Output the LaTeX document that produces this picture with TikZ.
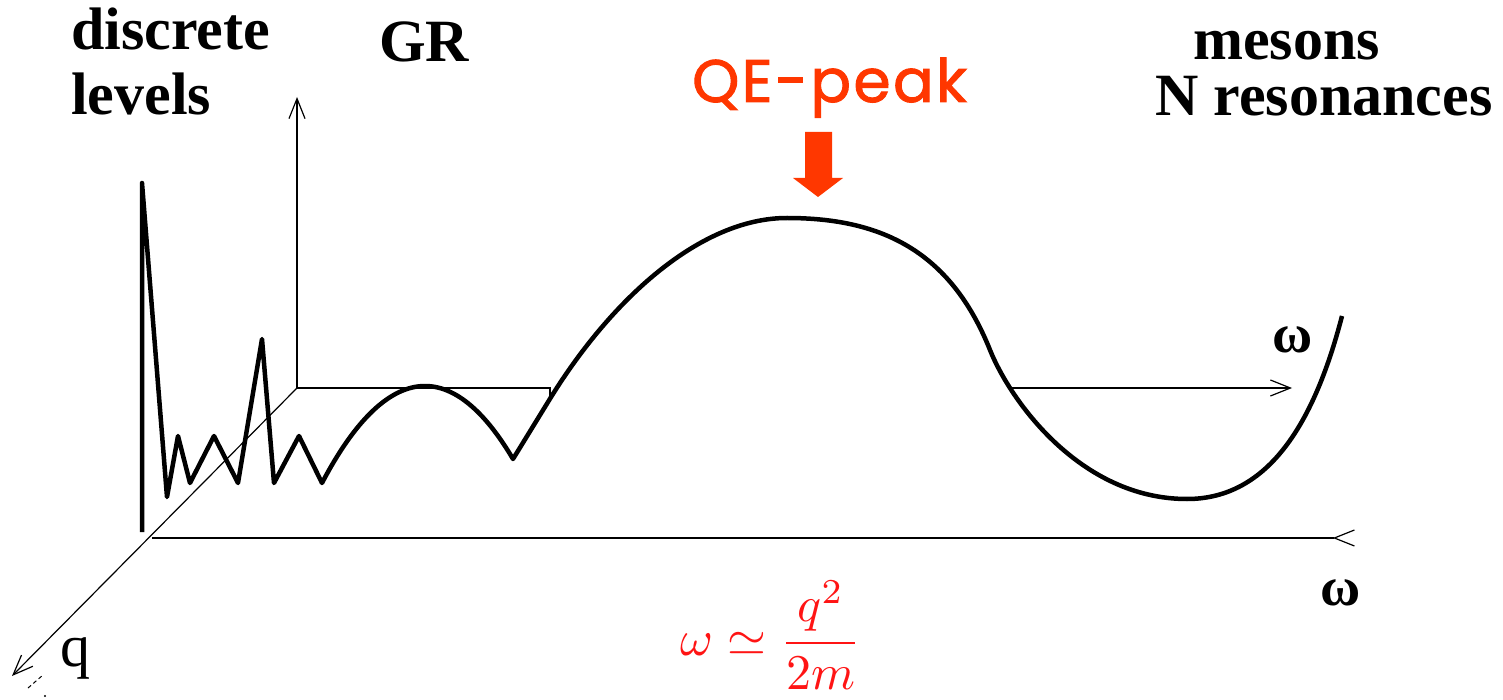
\documentclass[tikz,border=0pt]{standalone}
\usepackage[no-math]{fontspec}
\setmainfont{Liberation Serif}
\newfontfamily\qefont[FakeBold=1.6,LetterSpace=4]{Poppins}
\usetikzlibrary{arrows.meta}
\definecolor{qered}{RGB}{255,55,0}
\definecolor{frmred}{RGB}{255,20,20}
\tikzset{
  axis/.style={line width=1.2pt},
  axarrow/.style={axis,-{Straight Barb[length=20pt,width=16pt]}},
  axarrowrev/.style={axis,-{Straight Barb[reversed,length=20pt,width=16pt]}},
  curve/.style={line width=4.5pt,line join=round},
  lbl/.style={inner sep=0pt,anchor=base west,font=\fontsize{60}{66}\selectfont\bfseries},
  omg/.style={inner sep=0pt,anchor=base west,font=\fontsize{55}{60}\selectfont\bfseries},
}
\begin{document}
\begin{tikzpicture}[x=1pt,y=-1pt]
\useasboundingbox (0,0) rectangle (1503,700);
% axes coordinates
\coordinate (O) at (297,388);
\coordinate (vtop) at (297,97);
\coordinate (qtip) at (12,676);
\coordinate (bend1) at (550,388);
\coordinate (bend1b) at (550,399);
\coordinate (bstart2) at (1010,388);
\coordinate (bend2) at (1292,388);
\coordinate (fstart) at (152,538);
\coordinate (fend) at (1355,538);
% axes
\draw[axarrow] (O) -- (vtop);
\draw[axis] (O) -- (bend1) -- (bend1b);
\draw[axarrow] (bstart2) -- (bend2);
\draw[axarrow] (O) -- (qtip);
\draw[axarrowrev] (fstart) -- (fend);
% small marks near q tip
\coordinate (d1) at (28,688);
\coordinate (d2) at (43,675);
\draw[line width=1pt,dash pattern=on 4pt off 3pt] (d1) -- (d2);
\fill (45,696) circle (1.1pt);
% thick response curve
\draw[curve] (142,532) -- (142,183) -- (167,497) -- (178,436) -- (190,483) -- (214,436)
  -- (238,483) -- (262,339) -- (274,483) -- (299,436) -- (322,483)
  .. controls (355,420) and (390,386) .. (425,386)
  .. controls (460,386) and (490,420) .. (513,459)
  -- (548,402)
  .. controls (610,300) and (700,218) .. (787,218)
  .. controls (880,218) and (950,250) .. (990,350)
  .. controls (1010,400) and (1080,499) .. (1187,499)
  .. controls (1270,499) and (1315,420) .. (1342,316);
% QE peak arrow
\fill[qered] (805,132) -- (832,132) -- (832,178) -- (843,178) -- (818,197) -- (793,178) -- (805,178) -- cycle;
% labels
\node[lbl] (disc) at (71,50) {discrete};
\node[lbl] (lev) at (71,115) {levels};
\node[lbl] (gr) at (379,62) {GR};
\node[lbl] (mes) at (1193,60) {mesons};
\node[lbl] (nres) at (1155,116) {N resonances};
\node[omg] (w1) at (1272,352) {ω};
\node[omg] (w2) at (1320,605) {ω};
\node[inner sep=0pt,anchor=base west,font=\fontsize{60}{66}\selectfont] (q) at (60,666) {q};
\node[inner sep=0pt,anchor=base west,text=qered,font=\fontsize{60}{66}\selectfont\qefont] (qe) at (692,102) {QE-peak};
\node[inner sep=0pt,text=frmred] (frm) at (771,635) {\scalebox{5.0}{$\displaystyle\omega \simeq \frac{q^2}{2m}$}};
\end{tikzpicture}
\end{document}
